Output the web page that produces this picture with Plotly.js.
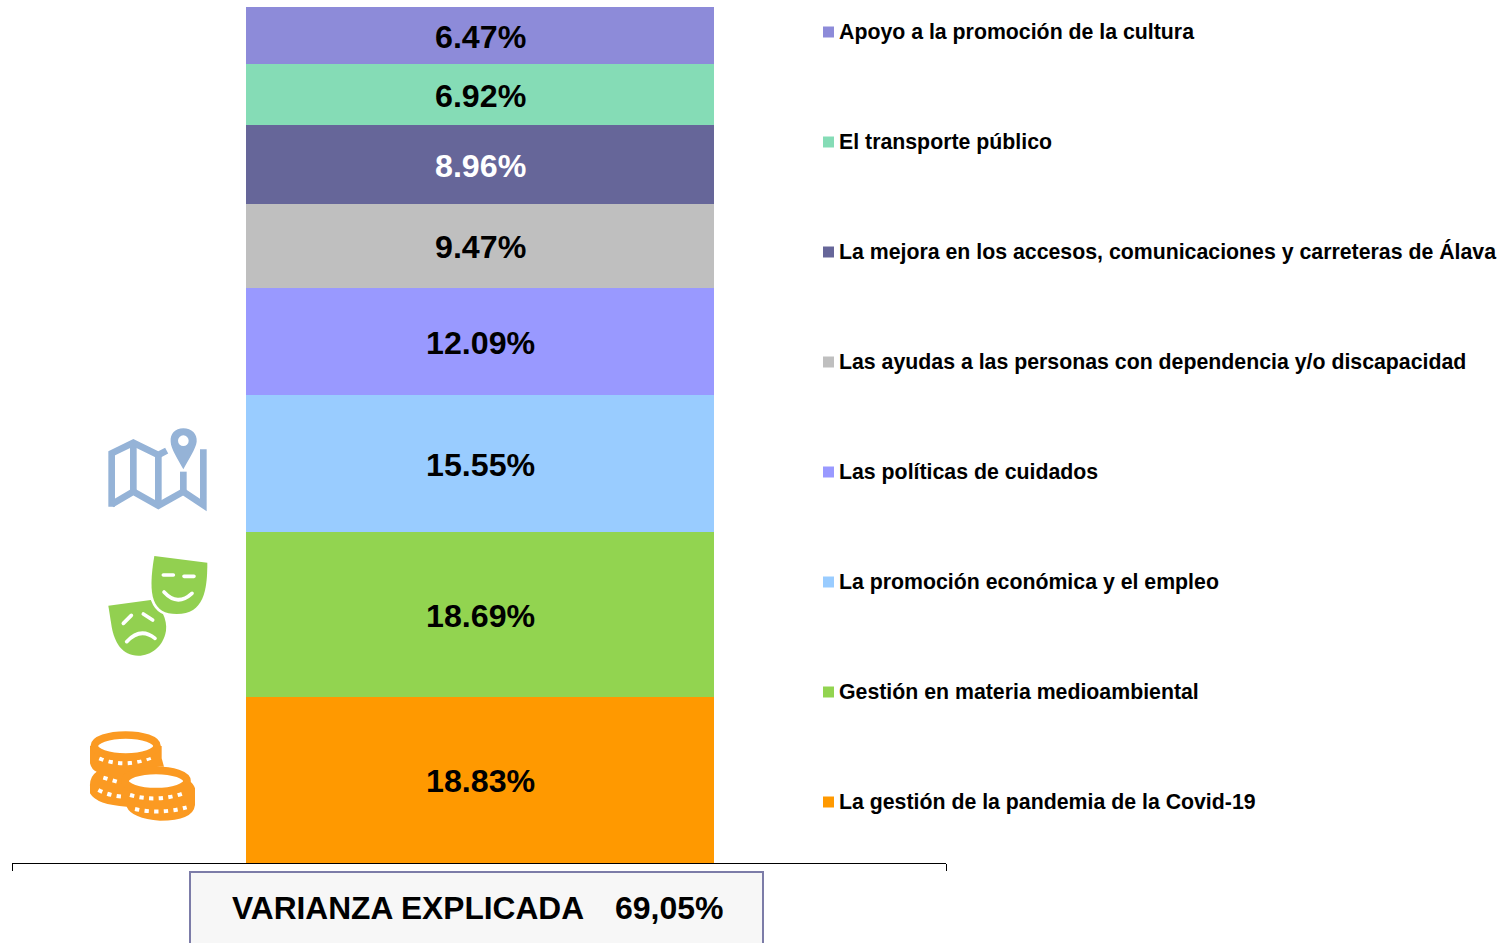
<!DOCTYPE html>
<html>
<head>
<meta charset="utf-8">
<script src="https://cdn.plot.ly/plotly-3.0.1.min.js"></script>
<style>html,body{margin:0;padding:0;background:#fff;overflow:hidden}#chart{width:1501px;height:943px}</style>
</head>
<body>
<div id="chart"></div>
<script>
// Stack order: bottom to top
const categories = [
  "La gestión de la pandemia de la Covid-19",
  "Gestión en materia medioambiental",
  "La promoción económica y el empleo",
  "Las políticas de cuidados",
  "Las ayudas a las personas con dependencia y/o discapacidad",
  "La mejora en los accesos, comunicaciones y carreteras de Álava",
  "El transporte público",
  "Apoyo a la promoción de la cultura"
];
const values = [18.83, 18.69, 15.55, 12.09, 9.47, 8.96, 6.92, 6.47];
const colors = ["#ff9900", "#92d450", "#99ccff", "#9999ff", "#bfbfbf", "#666699", "#85dcb6", "#8d8bd9"];
const labelColors = ["#000", "#000", "#000", "#000", "#000", "#fff", "#000", "#000"];
const boxLabel = "VARIANZA EXPLICADA";
const boxValue = "69,05%";

// Page geometry in pixels
const W = 1501, H = 943, L = 12, R = 946, T = 7, B = 863;
const px = x => (x - L) / (R - L);
const py = y => (B - y) / (B - T);
const font = "Liberation Sans, Arial, sans-serif";

const total = values.reduce((a, b) => a + b, 0);

const traces = categories.map((name, i) => ({
  type: "bar",
  name: name,
  x: [0],
  y: [values[i]],
  width: 0.501,
  offset: -0.2495,
  marker: {color: colors[i], line: {width: 0}},
  hovertemplate: "%{y:.2f}%<extra>" + name + "</extra>",
  showlegend: false
}));

const shapes = [];
const annotations = [];

// Value labels, centred on each segment through the data axes
let running = 0;
values.forEach((v, i) => {
  annotations.push({xref: "x", yref: "y", x: 0.002, y: running + v / 2, yshift: -1.3,
    xanchor: "center", yanchor: "middle", showarrow: false, borderpad: 0,
    text: "<b>" + v.toFixed(2) + "%</b>",
    font: {family: font, size: 32.2, color: labelColors[i]}});
  running += v;
});

// Hand-built legend: same text and colours, tight swatch to label spacing
const legendTop = 32, legendStep = 110;
categories.forEach((name, i) => {
  const cy = legendTop + (categories.length - 1 - i) * legendStep;
  shapes.push({type: "rect", xref: "paper", yref: "paper", layer: "above",
    x0: px(823), x1: px(834), y0: py(cy - 5.5), y1: py(cy + 5.5),
    fillcolor: colors[i], line: {width: 0}});
  annotations.push({xref: "paper", yref: "paper", x: px(837.9), y: py(cy - 0.3),
    xanchor: "left", yanchor: "middle", showarrow: false, align: "left",
    text: "<b>" + name + "</b>",
    font: {family: font, size: 21.3, color: "#000"}, borderpad: 0});
});

// Variance box, cut by the page bottom as in the reference
shapes.push({type: "rect", xref: "paper", yref: "paper", layer: "above",
  x0: px(190), x1: px(763), y0: py(872), y1: py(960),
  fillcolor: "#f7f7f7", line: {color: "#7c7ca8", width: 2}});
annotations.push({xref: "paper", yref: "paper", x: px(230.5), y: py(908),
  xanchor: "left", yanchor: "middle", showarrow: false,
  text: "<b>" + boxLabel + "</b>", font: {family: font, size: 31.7, color: "#000"}, borderpad: 0});
annotations.push({xref: "paper", yref: "paper", x: px(613.5), y: py(908),
  xanchor: "left", yanchor: "middle", showarrow: false,
  text: "<b>" + boxValue + "</b>", font: {family: font, size: 32, color: "#000"}, borderpad: 0});

// Icons, in a 570x1260 viewBox covering the page region x 60-250, y 410-830
const mapC = "#95b3d7", maskC = "#92d050", coinC = "#fb9a22";
const dots = d => `<path d="${d}" fill="none" stroke="#fff" stroke-width="12" stroke-dasharray="13 16"/>`;
const happy = "M283,438 L442,458 C442,540 432,612 350,612 C278,612 262,560 283,438 Z";
const iconSvg = `<svg xmlns="http://www.w3.org/2000/svg" width="570" height="1260" viewBox="0 0 570 1260">
<g fill="none" stroke="${mapC}" stroke-width="20" stroke-linejoin="miter">
<path d="M155,290 V130 L220,98 L295,135 L320,122"/><path d="M430,118 V285 L370,245 L295,287 L220,245 L155,283"/>
<path d="M220,98 V245"/><path d="M295,135 V285"/><path d="M370,185 V245"/></g>
<path d="M370,55 C395,55 412,72 410,95 C408,115 385,150 370,178 C355,150 332,115 332,95 C330,72 345,55 370,55 Z" fill="${mapC}"/><circle cx="370" cy="92" r="16" fill="#fff"/>
<path d="M145,587 L272,570 C305,590 322,630 318,662 C310,710 272,737 235,737 C185,737 163,695 155,650 Z" fill="${maskC}"/>
<path d="M190,640 L214,616 M250,612 L278,630 M200,695 Q242,650 285,685" fill="none" stroke="#fff" stroke-width="11" stroke-linecap="round"/>
<path d="${happy}" fill="none" stroke="#fff" stroke-width="16"/>
<path d="${happy}" fill="${maskC}"/>
<path d="M310,495 H340 M372,499 H402 M312,546 Q352,590 396,550" fill="none" stroke="#fff" stroke-width="11" stroke-linecap="round"/>
<path d="M90,1008 V1060 Q95,1080 110,1085 Q88,1100 90,1130 V1150 Q110,1185 200,1190 Q215,1225 300,1232 Q400,1232 405,1185 V1135 Q400,1120 385,1110 Q370,1075 290,1070 L312,1070 L305,1045 V1008 Z" fill="${coinC}"/>
${dots("M118,1045 Q195,1077 280,1040")}
${dots("M130,1103 L175,1116")}
${dots("M115,1140 Q150,1158 190,1160")}
${dots("M210,1155 Q290,1178 370,1150")}
${dots("M225,1197 Q300,1214 380,1192")}
<ellipse cx="197" cy="1008" rx="94" ry="33" fill="#fff" stroke="${coinC}" stroke-width="23"/>
<ellipse cx="288" cy="1113" rx="93" ry="32" fill="#fff" stroke="${coinC}" stroke-width="23"/>
</svg>`;

const layout = {
  width: W, height: H,
  margin: {l: L, r: W - R, t: T, b: H - B, pad: 0},
  paper_bgcolor: "#fff",
  plot_bgcolor: "#fff",
  barmode: "stack",
  showlegend: false,
  xaxis: {
    type: "linear", range: [-0.5, 0.5], fixedrange: true,
    showgrid: false, zeroline: false, showline: true, linecolor: "#000", linewidth: 1,
    ticks: "outside", ticklen: 7, tickwidth: 1, tickcolor: "#000",
    tickmode: "array", tickvals: [-0.5, 0.5], ticktext: ["", ""]
  },
  yaxis: {
    range: [0, total], fixedrange: true, visible: false, showgrid: false, zeroline: false
  },
  shapes: shapes,
  annotations: annotations,
  images: [{
    source: "data:image/svg+xml;charset=utf-8," + encodeURIComponent(iconSvg),
    xref: "paper", yref: "paper", x: px(60), y: py(410),
    sizex: 190 / (R - L), sizey: 420 / (B - T),
    xanchor: "left", yanchor: "top", sizing: "stretch", layer: "above"
  }]
};

Plotly.newPlot("chart", traces, layout, {displayModeBar: false});
</script>
</body>
</html>
